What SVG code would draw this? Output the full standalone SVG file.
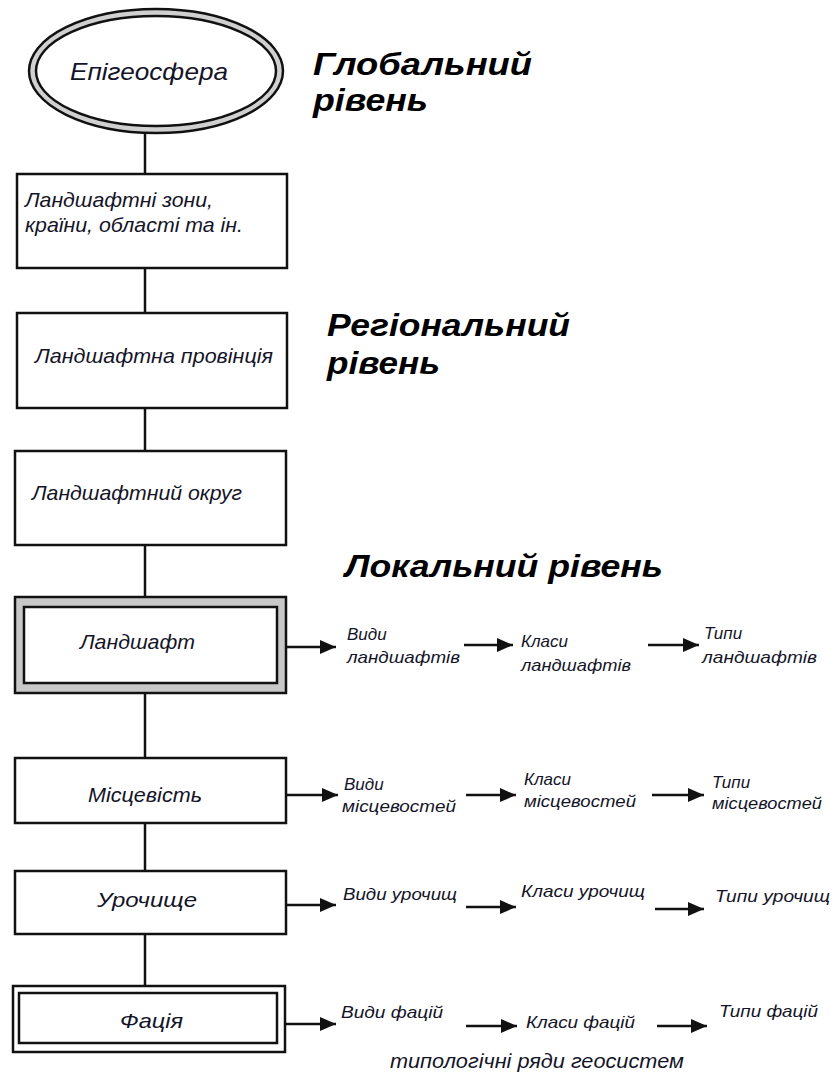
<svg xmlns="http://www.w3.org/2000/svg" width="835" height="1077" viewBox="0 0 835 1077">
<style>
.box{fill:#fff;stroke:#111;stroke-width:2.5}
.t{font-family:"Liberation Sans",Arial,sans-serif;font-style:italic;fill:#141428}
.n{font-size:21px}
.s{font-size:17px}
.h{font-family:"Liberation Sans",Arial,sans-serif;font-style:italic;font-weight:bold;font-size:31px;fill:#000}
.c{stroke:#111;stroke-width:2.5;fill:none}
.a{stroke:#111;stroke-width:2.5;fill:none;marker-end:url(#ah)}
</style>
<defs>
<marker id="ah" markerUnits="userSpaceOnUse" markerWidth="17" markerHeight="14" refX="16" refY="7" orient="auto">
<path d="M0,0 L16,7 L0,14 z" fill="#111"/>
</marker>
</defs>
<rect width="835" height="1077" fill="#fff"/>

<g id="connectors">
<line class="c" x1="145" y1="133" x2="145" y2="174"/>
<line class="c" x1="145" y1="268" x2="145" y2="313"/>
<line class="c" x1="145" y1="408" x2="145" y2="451"/>
<line class="c" x1="145" y1="545" x2="145" y2="597"/>
<line class="c" x1="145" y1="693" x2="145" y2="758"/>
<line class="c" x1="145" y1="823" x2="145" y2="871"/>
<line class="c" x1="145" y1="934" x2="145" y2="986"/>
<line class="a" x1="286" y1="647" x2="336" y2="647"/>
<line class="a" x1="464" y1="645" x2="513" y2="645"/>
<line class="a" x1="648" y1="645" x2="699" y2="645"/>
<line class="a" x1="286" y1="795" x2="338" y2="795"/>
<line class="a" x1="466" y1="795" x2="516" y2="795"/>
<line class="a" x1="652" y1="795" x2="704" y2="795"/>
<line class="a" x1="286" y1="905" x2="336" y2="905"/>
<line class="a" x1="466" y1="907" x2="516" y2="907"/>
<line class="a" x1="655" y1="909" x2="704" y2="909"/>
<line class="a" x1="285" y1="1024" x2="336" y2="1024"/>
<line class="a" x1="466" y1="1026" x2="517" y2="1026"/>
<line class="a" x1="657" y1="1026" x2="707" y2="1026"/>
</g>

<g id="epigeosfera">
<ellipse cx="156" cy="71" rx="127" ry="62" fill="#d0d0d0" stroke="#111" stroke-width="2.5"/>
<ellipse cx="156" cy="71" rx="120" ry="55" fill="#fff" stroke="#111" stroke-width="2.5"/>
<text class="t" font-size="24" x="70" y="80" textLength="158" lengthAdjust="spacingAndGlyphs">Епігеосфера</text>
</g>

<g id="zony">
<rect class="box" x="17" y="174" width="270" height="94"/>
<text class="t n" x="25" y="207" textLength="188" lengthAdjust="spacingAndGlyphs">Ландшафтні зони,</text>
<text class="t n" x="25" y="232" textLength="218" lengthAdjust="spacingAndGlyphs">країни, області та ін.</text>
</g>

<g id="provintsiia">
<rect class="box" x="17" y="313" width="270" height="95"/>
<text class="t n" x="35" y="363" textLength="238" lengthAdjust="spacingAndGlyphs">Ландшафтна провінція</text>
</g>

<g id="okruh">
<rect class="box" x="15" y="451" width="271" height="94"/>
<text class="t n" x="32" y="500" textLength="210" lengthAdjust="spacingAndGlyphs">Ландшафтний округ</text>
</g>

<g id="landshaft">
<rect x="15" y="597" width="271" height="96" fill="#c8c8c8" stroke="#111" stroke-width="2.5"/>
<rect class="box" x="24" y="607" width="253" height="76"/>
<text class="t n" x="80" y="649" textLength="115" lengthAdjust="spacingAndGlyphs">Ландшафт</text>
</g>

<g id="mistsevist">
<rect class="box" x="15" y="758" width="271" height="65"/>
<text class="t n" x="88" y="802" textLength="114" lengthAdjust="spacingAndGlyphs">Місцевість</text>
</g>

<g id="urochyshche">
<rect class="box" x="15" y="871" width="271" height="63"/>
<text class="t n" x="97" y="907" textLength="100" lengthAdjust="spacingAndGlyphs" fill="#000">Урочище</text>
</g>

<g id="fatsiia">
<rect class="box" x="13" y="986" width="272" height="66"/>
<rect class="box" x="19" y="993" width="258" height="50"/>
<text class="t n" x="120" y="1028" textLength="63" lengthAdjust="spacingAndGlyphs" fill="#000">Фація</text>
</g>

<g id="headings">
<text class="h" x="313" y="75" textLength="219" lengthAdjust="spacingAndGlyphs">Глобальний</text>
<text class="h" x="313" y="111" textLength="115" lengthAdjust="spacingAndGlyphs">рівень</text>
<text class="h" x="327" y="336" textLength="243" lengthAdjust="spacingAndGlyphs">Регіональний</text>
<text class="h" x="327" y="374" textLength="113" lengthAdjust="spacingAndGlyphs">рівень</text>
<text class="h" x="345" y="577" textLength="318" lengthAdjust="spacingAndGlyphs">Локальний рівень</text>
</g>

<g id="row-landshaft">
<text class="t s" x="347" y="640">Види</text>
<text class="t s" x="347" y="663" textLength="113" lengthAdjust="spacingAndGlyphs">ландшафтів</text>
<text class="t s" x="521" y="647">Класи</text>
<text class="t s" x="521" y="671" textLength="110" lengthAdjust="spacingAndGlyphs">ландшафтів</text>
<text class="t s" x="704" y="639">Типи</text>
<text class="t s" x="702" y="663" textLength="115" lengthAdjust="spacingAndGlyphs">ландшафтів</text>
</g>

<g id="row-mistsevist">
<text class="t s" x="344" y="790">Види</text>
<text class="t s" x="342" y="812" textLength="114" lengthAdjust="spacingAndGlyphs">місцевостей</text>
<text class="t s" x="524" y="785">Класи</text>
<text class="t s" x="524" y="807" textLength="112" lengthAdjust="spacingAndGlyphs">місцевостей</text>
<text class="t s" x="712" y="788">Типи</text>
<text class="t s" x="712" y="809" textLength="110" lengthAdjust="spacingAndGlyphs">місцевостей</text>
</g>

<g id="row-urochyshche">
<text class="t s" x="343" y="900" textLength="114" lengthAdjust="spacingAndGlyphs">Види урочищ</text>
<text class="t s" x="521" y="897" textLength="124" lengthAdjust="spacingAndGlyphs">Класи урочищ</text>
<text class="t s" x="715" y="902" textLength="115" lengthAdjust="spacingAndGlyphs">Типи урочищ</text>
</g>

<g id="row-fatsiia">
<text class="t s" x="341" y="1018" textLength="102" lengthAdjust="spacingAndGlyphs">Види фацій</text>
<text class="t s" x="526" y="1028" textLength="109" lengthAdjust="spacingAndGlyphs">Класи фацій</text>
<text class="t s" x="719" y="1017" textLength="99" lengthAdjust="spacingAndGlyphs">Типи фацій</text>
<text class="t n" x="390" y="1068" textLength="294" lengthAdjust="spacingAndGlyphs">типологічні ряди геосистем</text>
</g>
</svg>
